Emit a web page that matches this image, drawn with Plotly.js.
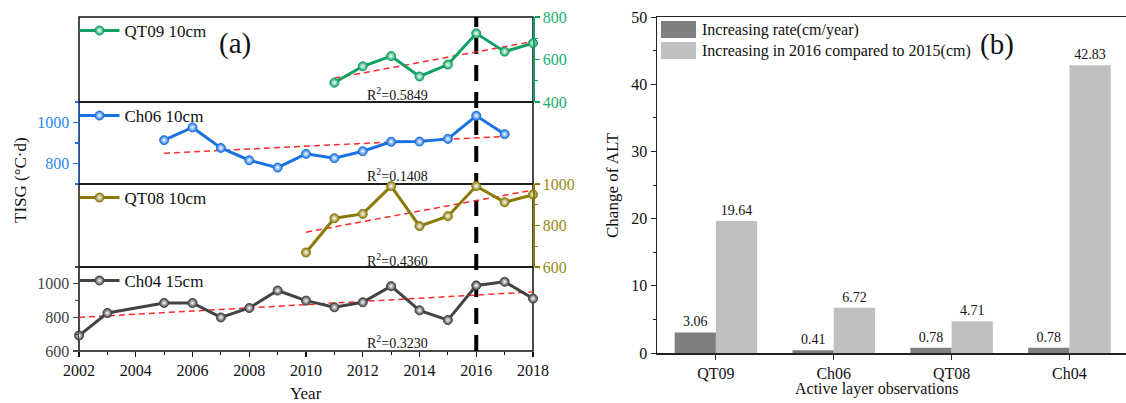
<!DOCTYPE html>
<html>
<head>
<meta charset="utf-8">
<script src="https://cdn.plot.ly/plotly-3.0.1.min.js"></script>
<style>html,body{margin:0;padding:0;background:#fff;}#chart{width:1126px;height:403px;}</style>
</head>
<body>
<div id="chart"></div>
<script>
// ---------- Data: panel (a) TISG series ----------
const qt09Years = [2011, 2012, 2013, 2014, 2015, 2016, 2017, 2018];
const qt09Values = [491, 568, 616, 520, 576, 723, 637, 677];
const ch06Years = [2005, 2006, 2007, 2008, 2009, 2010, 2011, 2012, 2013, 2014, 2015, 2016, 2017];
const ch06Values = [914, 976, 876, 816, 780, 847, 826, 860, 906, 907, 920, 1033, 943];
const qt08Years = [2010, 2011, 2012, 2013, 2014, 2015, 2016, 2017, 2018];
const qt08Values = [670, 835, 856, 990, 797, 845, 990, 912, 949];
const ch04Years = [2002, 2003, 2005, 2006, 2007, 2008, 2009, 2010, 2011, 2012, 2013, 2014, 2015, 2016, 2017, 2018];
const ch04Values = [692, 826, 886, 886, 800, 856, 960, 900, 860, 890, 986, 842, 784, 990, 1012, 912];

// linear trend lines (end points)
const qt09TrendX = [2011, 2018], qt09TrendY = [512, 685];
const ch06TrendX = [2005, 2017], ch06TrendY = [850, 932];
const qt08TrendX = [2010, 2018], qt08TrendY = [768, 971];
const ch04TrendX = [2002, 2018], ch04TrendY = [800, 952];

const seriesNames = ['QT09 10cm', 'Ch06 10cm', 'QT08 10cm', 'Ch04 15cm'];
const r2Labels = ['R<sup>2</sup>=0.5849', 'R<sup>2</sup>=0.1408', 'R<sup>2</sup>=0.4360', 'R<sup>2</sup>=0.3230'];
const eventYear = 2016;
const yearTicks = [2002, 2004, 2006, 2008, 2010, 2012, 2014, 2016, 2018];

// ---------- Data: panel (b) ALT change ----------
const stations = ['QT09', 'Ch06', 'QT08', 'Ch04'];
const rateValues = [3.06, 0.41, 0.78, 0.78];
const increase2016Values = [19.64, 6.72, 4.71, 42.83];
const barLegendLabels = ['Increasing rate(cm/year)', 'Increasing in 2016 compared to 2015(cm)'];

// ---------- Styling ----------
const W = 1126, H = 403;
const FONT = 'Liberation Serif';
const px = v => v / W;
const py = v => (H - v) / H;

const cGreen = '#0fa062', cGreenT = '#17b072';
const cBlue = '#1a72e0', cBlueT = '#2a88f2';
const cOlive = '#8a7a08', cOliveT = '#9a8a12';
const cGray = '#434343', cGrayT = '#444444';
const cTrend = '#ff2a2a';

const aLeft = 79, aRight = 533;
const pTop = [17, 102, 184, 267, 351]; // panel boundaries (px)

function seriesTrace(x, y, yax, color, name, legend) {
  return {
    type: 'scatter', mode: 'lines+markers', x: x, y: y, xaxis: 'x', yaxis: yax,
    name: name, legend: legend, cliponaxis: false,
    line: {color: color, width: 3},
    marker: {size: 9, color: color, gradient: {type: 'radial', color: '#ffffff'},
             line: {color: color, width: 1}}
  };
}
function trendTrace(x, y, yax) {
  return {
    type: 'scatter', mode: 'lines', x: x, y: y, xaxis: 'x', yaxis: yax,
    showlegend: false, hoverinfo: 'skip',
    line: {color: cTrend, width: 1.5, dash: '6px,4px'}
  };
}

const traces = [
  trendTrace(qt09TrendX, qt09TrendY, 'y4'),
  trendTrace(ch06TrendX, ch06TrendY, 'y3'),
  trendTrace(qt08TrendX, qt08TrendY, 'y2'),
  trendTrace(ch04TrendX, ch04TrendY, 'y'),
  seriesTrace(qt09Years, qt09Values, 'y4', cGreen, seriesNames[0], 'legend4'),
  seriesTrace(ch06Years, ch06Values, 'y3', cBlue, seriesNames[1], 'legend3'),
  seriesTrace(qt08Years, qt08Values, 'y2', cOlive, seriesNames[2], 'legend2'),
  seriesTrace(ch04Years, ch04Values, 'y', cGray, seriesNames[3], 'legend'),
  {
    type: 'bar', x: stations, y: rateValues, xaxis: 'x2', yaxis: 'y5', name: barLegendLabels[0],
    showlegend: false, marker: {color: '#7f7f7f', line: {width: 0}},
    text: rateValues.map(v => v.toFixed(2)), textposition: 'outside', cliponaxis: false,
    textfont: {family: FONT, size: 14, color: '#111'}
  },
  {
    type: 'bar', x: stations, y: increase2016Values, xaxis: 'x2', yaxis: 'y5', name: barLegendLabels[1],
    showlegend: false, marker: {color: '#c0c0c0', line: {width: 0}},
    text: increase2016Values.map(v => v.toFixed(2)), textposition: 'outside', cliponaxis: false,
    textfont: {family: FONT, size: 14, color: '#111'}
  }
];

function yAxis(dom, range, side, color, tcolor, tickvals) {
  return {
    domain: dom, range: range, side: side, anchor: 'x',
    showgrid: false, zeroline: false, showline: true, linecolor: color, linewidth: 1.5,
    ticks: 'outside', ticklen: 5, tickwidth: 1.2, tickcolor: color,
    tickvals: tickvals, tickfont: {family: FONT, size: 16, color: tcolor},
    minor: {dtick: 100, ticks: 'outside', ticklen: 3, tickcolor: color, showgrid: false}
  };
}

const legendBase = (top) => ({
  x: px(aLeft) - 0.004, xanchor: 'left', y: py(top) + 0.01, yanchor: 'top',
  bgcolor: 'rgba(0,0,0,0)', borderwidth: 0, itemwidth: 40,
  font: {family: FONT, size: 17, color: '#111'}
});

const frameShapes = [];
for (let i = 0; i < 4; i++) {
  frameShapes.push({type: 'rect', xref: 'paper', yref: 'paper', layer: 'below',
    x0: px(aLeft), x1: px(aRight), y0: py(pTop[i + 1]), y1: py(pTop[i]),
    line: {color: '#111', width: 1.5}, fillcolor: 'rgba(0,0,0,0)'});
}
const shapes = frameShapes.concat([
  {type: 'line', xref: 'x', yref: 'paper', layer: 'below', x0: eventYear, x1: eventYear,
   y0: py(pTop[4]), y1: py(pTop[0]), line: {color: '#000', width: 4, dash: '16px,11px'}},
  // custom legend swatches for panel (b)
  {type: 'rect', xref: 'paper', yref: 'paper', x0: px(661), x1: px(696), y0: py(38), y1: py(21),
   fillcolor: '#7f7f7f', line: {width: 0}},
  {type: 'rect', xref: 'paper', yref: 'paper', x0: px(661), x1: px(696), y0: py(59), y1: py(42),
   fillcolor: '#c0c0c0', line: {width: 0}}
]);

const ann = (text, x, y, size, opts) => Object.assign({
  text: text, x: x, y: y, xref: 'paper', yref: 'paper', showarrow: false,
  xanchor: 'center', yanchor: 'middle',
  font: {family: FONT, size: size, color: '#111'}
}, opts || {});

const r2Y = [94, 175, 260, 342];
const annotations = [
  ann('(a)', px(235), py(43), 29),
  ann('(b)', px(997), py(44), 29),
  ann('TISG (°C·d)', px(20), py(180), 17, {textangle: -90}),
  ann('Year', px(306), py(393), 17),
  ann('Change of ALT', px(612), py(185), 17, {textangle: -90}),
  ann('Active layer observations', px(877), py(389), 16),
  ann(barLegendLabels[0], px(700), py(30), 16, {xanchor: 'left'}),
  ann(barLegendLabels[1], px(700), py(51), 16, {xanchor: 'left'})
];
for (let i = 0; i < 4; i++) annotations.push(ann(r2Labels[i], px(397), py(r2Y[i]), 14));

const layout = {
  width: W, height: H, margin: {l: 0, r: 0, t: 0, b: 0},
  paper_bgcolor: '#fff', plot_bgcolor: 'rgba(0,0,0,0)',
  font: {family: FONT, color: '#111'},
  barmode: 'group', bargap: 0.3, bargroupgap: 0,
  xaxis: {
    domain: [px(aLeft), px(aRight)], range: [2002, 2018], anchor: 'y',
    showgrid: false, zeroline: false, showline: false,
    ticks: 'outside', ticklen: 5, tickwidth: 1.2, tickcolor: '#111',
    tickvals: yearTicks, tickfont: {family: FONT, size: 16, color: '#111'},
    minor: {dtick: 1, ticks: 'outside', ticklen: 3, tickcolor: '#111', showgrid: false}
  },
  yaxis: yAxis([py(pTop[4]), py(pTop[3])], [600, 1100], 'left', cGray, cGrayT, [600, 800, 1000]),
  yaxis2: yAxis([py(pTop[3]), py(pTop[2])], [600, 1000], 'right', cOlive, cOliveT, [600, 800, 1000]),
  yaxis3: yAxis([py(pTop[2]), py(pTop[1])], [700, 1100], 'left', cBlue, cBlueT, [800, 1000]),
  yaxis4: yAxis([py(pTop[1]), py(pTop[0])], [400, 800], 'right', cGreen, cGreenT, [400, 600, 800]),
  xaxis2: {
    domain: [px(657), 1], range: [-0.5, 3.48], anchor: 'y5', type: 'category',
    showgrid: false, zeroline: false, showline: true, linecolor: '#222', linewidth: 1.5, mirror: true,
    ticks: 'outside', ticklen: 5, tickcolor: '#222',
    tickfont: {family: FONT, size: 16, color: '#111'}
  },
  yaxis5: {
    domain: [py(353), py(17)], range: [0, 50], anchor: 'x2',
    showgrid: false, zeroline: false, showline: true, linecolor: '#222', linewidth: 1.5,
    ticks: 'outside', ticklen: 5, tickcolor: '#222', dtick: 10,
    tickfont: {family: FONT, size: 16, color: '#111'},
    minor: {dtick: 5, ticks: 'outside', ticklen: 3, tickcolor: '#222', showgrid: false}
  },
  legend: legendBase(pTop[3]),
  legend2: legendBase(pTop[2]),
  legend3: legendBase(pTop[1]),
  legend4: legendBase(pTop[0]),
  shapes: shapes,
  annotations: annotations
};

Plotly.newPlot('chart', traces, layout, {displayModeBar: false, staticPlot: true});
</script>
</body>
</html>
